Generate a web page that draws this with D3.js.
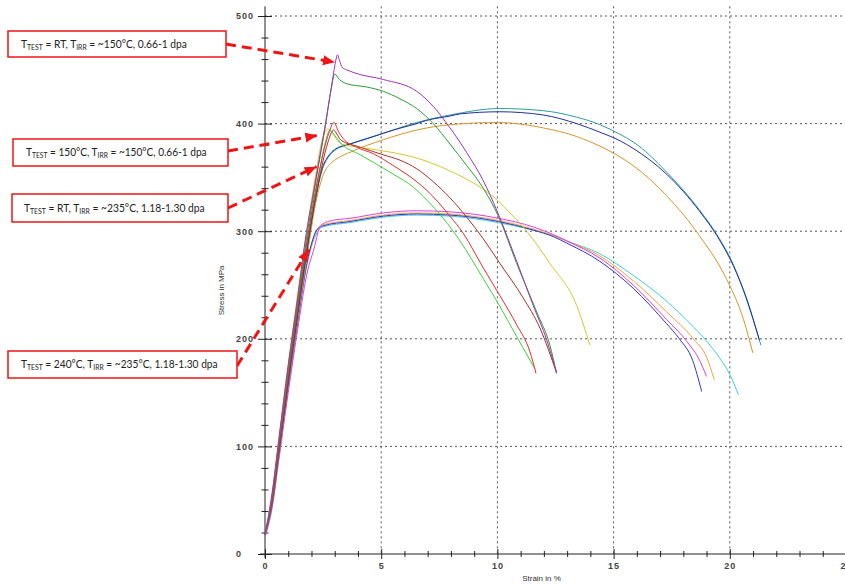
<!DOCTYPE html>
<html>
<head>
<meta charset="utf-8">
<script src="https://cdn.jsdelivr.net/npm/d3@7.9.0/dist/d3.min.js"></script>
<style>
  body { margin: 0; background: #fff; }
  svg { display: block; font-family: "Liberation Sans", Arial, sans-serif; }
</style>
</head>
<body>
<svg id="chart" width="845" height="584"></svg>
<script>
// axis ticks
const xTicks = [0, 5, 10, 15, 20, 25];
const yTicks = [0, 100, 200, 300, 400, 500];

// [strain %, stress MPa]
// T_test = RT, T_irr ~150°C
const rt150Purple = [[0,18],[0.3,56],[0.6,108],[1.0,176],[1.4,238],[1.72,290],[2.2,350],[2.6,400],[2.9,440],[3.05,459],[3.12,464],[3.2,459],[3.33,452],[3.52,450],[3.87,447],[5.09,441],[6.53,430],[7.24,416],[7.96,396],[8.68,373],[9.39,347],[10.0,318],[10.83,272],[11.54,231],[12.12,199],[12.55,168]];
const rt150Green = [[0,18],[0.3,54],[0.6,105],[1.0,172],[1.4,234],[1.75,288],[2.2,348],[2.6,398],[2.85,432],[3.0,446],[3.2,441],[3.52,437],[4.38,434],[5.09,430],[5.81,423],[6.53,414],[7.24,400],[7.96,381],[8.68,361],[9.39,340],[10.04,314],[10.83,270],[11.69,225],[12.26,194],[12.55,168]];

// T_test = 150°C, T_irr ~150°C
const t150Red = [[0,18],[0.3,50],[0.6,100],[1.0,168],[1.4,230],[1.8,290],[2.3,352],[2.7,388],[2.97,401],[3.15,393],[3.37,386],[3.95,378],[4.66,372],[5.52,361],[6.53,346],[6.96,338],[7.96,314],[8.53,298],[9.39,266],[10.11,240],[10.83,213],[11.4,188],[11.66,168]];
const t150LightGreen = [[0,18],[0.3,48],[0.6,98],[1.0,165],[1.4,228],[1.8,288],[2.3,350],[2.6,383],[2.8,394],[2.97,390],[3.25,382],[4.1,371],[4.66,364],[5.52,353],[6.38,341],[6.96,329],[7.67,312],[8.39,291],[9.39,256],[10.11,230],[10.83,202],[11.62,172]];
const t150DarkRed = [[0,18],[0.3,48],[0.6,97],[1.0,162],[1.4,225],[1.8,284],[2.3,345],[2.7,382],[2.95,394],[3.1,390],[3.25,385],[4.1,378],[5.09,371],[5.81,366],[6.53,358],[7.24,346],[7.96,331],[8.68,313],[9.39,293],[10.11,270],[11.11,238],[11.83,210],[12.55,168]];
const t150Yellow = [[0,18],[0.3,52],[0.6,106],[1.0,176],[1.4,240],[1.8,300],[2.2,355],[2.45,384],[2.7,395],[2.95,389],[3.3,381],[4.09,378],[5.52,373],[6.53,368],[7.96,356],[9.39,339],[10.04,328],[10.54,317],[11.26,300],[12.26,270],[13.41,231],[13.98,194]];

// T_test = RT, T_irr ~235°C
const rt235Navy = [[0,18],[0.3,47],[0.6,95],[1.0,160],[1.4,222],[1.8,282],[2.2,334],[2.45,358],[2.7,369],[3.0,376],[3.66,381],[4.4,386],[5.09,391],[5.52,394],[6.53,400],[6.96,403],[7.96,407],[8.39,409],[10.1,411],[11.97,408],[13.41,400],[14.41,392],[15.28,384],[15.84,377],[17.28,353],[18.72,318],[19.44,296],[20.15,268],[20.73,237],[21.27,199]];
const rt235Teal = [[0,18],[0.3,46],[0.6,94],[1.0,158],[1.4,220],[1.8,280],[2.2,332],[2.45,356],[2.7,368],[3.0,375],[3.66,381],[5.09,391],[6.53,401],[7.96,408],[10.1,414],[11.97,412],[13.41,406],[14.41,399],[15.28,390],[15.84,383],[17.28,355],[18.72,319],[19.44,297],[20.15,269],[20.73,236],[21.34,194]];
const rt235Orange = [[0,18],[0.3,46],[0.6,93],[1.0,157],[1.4,217],[1.8,275],[2.2,328],[2.5,352],[2.78,362],[3.0,366],[3.73,374],[5.09,385],[6.53,394],[7.96,399],[10.04,401],[11.97,396],[13.41,388],[14.41,379],[15.28,369],[15.84,361],[17.28,333],[18.72,295],[19.87,255],[20.59,218],[20.99,187]];

// T_test = 240°C, T_irr ~235°C
const t240Blue = [[0,18],[0.3,46],[0.6,93],[1.0,156],[1.4,215],[1.8,270],[2.05,292],[2.22,301],[2.5,305],[3.66,309],[5.09,314],[6.53,316],[7.96,315],[10.04,309],[11.54,301],[12.4,295],[12.98,289],[14.41,272],[15.84,247],[17.28,214],[17.83,200],[18.4,180],[18.79,151]];
const t240Magenta = [[0,16],[0.3,42],[0.6,88],[1.0,150],[1.4,208],[1.8,260],[2.15,287],[2.32,302],[2.5,307],[2.9,310],[3.66,312],[5.09,317],[6.53,319],[7.96,318],[10.04,312],[11.54,304],[12.4,297],[12.98,291],[14.41,275],[15.84,250],[17.28,218],[18.17,197],[18.7,180],[19.0,165]];
const t240Orange = [[0,18],[0.3,46],[0.6,94],[1.0,157],[1.4,216],[1.8,271],[2.08,293],[2.25,302],[2.5,306],[3.66,310],[5.09,315],[6.53,317],[7.96,316],[10.04,310],[11.54,302],[12.4,296],[12.98,291],[14.41,277],[15.84,254],[17.28,225],[18.47,199],[19.0,183],[19.33,162]];
const t240Cyan = [[0,18],[0.3,45],[0.6,92],[1.0,155],[1.4,214],[1.8,268],[2.1,292],[2.27,300],[2.5,304],[3.66,308],[5.09,313],[6.53,315],[7.96,314],[10.04,308],[11.54,301],[12.4,296],[12.98,291],[14.41,279],[15.84,259],[17.28,235],[18.3,214],[19.0,198],[19.6,181],[20.0,167],[20.37,148]];

// annotation texts and the point each arrow hits [strain, stress]
const notes = [
  { test: "RT", irr: "~150°C, 0.66-1 dpa", tip: [3.01, 457] },
  { test: "150°C", irr: "~150°C, 0.66-1 dpa", tip: [2.25, 389] },
  { test: "RT", irr: "~235°C, 1.18-1.30 dpa", tip: [2.22, 360] },
  { test: "240°C", irr: "~235°C, 1.18-1.30 dpa", tip: [1.89, 283] }
];

const series = [
  { data: t240Cyan, color: "#3ccfd2" },
  { data: t240Orange, color: "#f0a23c" },
  { data: t240Blue, color: "#3434cc" },
  { data: t240Magenta, color: "#dd3ee0" },
  { data: rt235Orange, color: "#d5962a" },
  { data: rt235Teal, color: "#2a9c9c" },
  { data: rt235Navy, color: "#22309a" },
  { data: t150Yellow, color: "#d4c82e" },
  { data: t150LightGreen, color: "#3fcf3f" },
  { data: t150DarkRed, color: "#a2302c" },
  { data: t150Red, color: "#e0302c" },
  { data: rt150Green, color: "#2a9a3a" },
  { data: rt150Purple, color: "#9e36b0" }
];

const svg = d3.select("#chart");
const x = d3.scaleLinear().domain([0, 25]).range([265, 846]);
const y = d3.scaleLinear().domain([0, 500]).range([554, 16]);
const yTop = y(509);

// grid
svg.append("g").selectAll("line")
  .data(yTicks.filter(d => d > 0))
  .join("line")
  .attr("x1", x(0)).attr("x2", 845)
  .attr("y1", d => y(d)).attr("y2", d => y(d))
  .attr("stroke", "#555").attr("stroke-dasharray", "2,3");
svg.append("g").selectAll("line")
  .data(xTicks.filter(d => d > 0))
  .join("line")
  .attr("x1", d => x(d)).attr("x2", d => x(d))
  .attr("y1", yTop).attr("y2", y(0))
  .attr("stroke", "#555").attr("stroke-dasharray", "2,3");

// axes
const xAxis = svg.append("g")
  .attr("transform", `translate(0,${y(0)})`)
  .call(d3.axisBottom(x).tickValues(d3.range(0, 26, 1)).tickSize(4).tickFormat(d => d % 5 === 0 ? d : ""));
xAxis.select(".domain").attr("d", `M${x(0) - 5},0H846`).attr("stroke", "#222");
xAxis.selectAll(".tick line").attr("y1", d => d % 5 === 0 ? -5 : -3).attr("y2", d => d % 5 === 0 ? 5 : 3).attr("stroke", "#222");
xAxis.selectAll(".tick text").attr("y", 9).attr("font-size", 9).attr("font-weight", "bold")
  .attr("fill", "#444").attr("letter-spacing", 1);

const yAxis = svg.append("g")
  .attr("transform", `translate(${x(0)},0)`)
  .call(d3.axisLeft(y).tickValues(d3.range(0, 501, 20)).tickSize(4).tickFormat(d => d % 100 === 0 ? d : ""));
yAxis.select(".domain").attr("d", `M0,${y(0) + 4}V${yTop}`).attr("stroke", "#222");
yAxis.selectAll(".tick line").attr("x1", d => d % 100 === 0 ? -7 : -3.5).attr("x2", d => d % 100 === 0 ? 7 : 3.5).attr("stroke", "#222");
yAxis.selectAll(".tick text").attr("x", -29).attr("text-anchor", "start")
  .attr("font-size", 9).attr("font-weight", "bold").attr("fill", "#444").attr("letter-spacing", 1);

svg.append("text").attr("x", (x(0) + 846) / 2 - 14).attr("y", 581)
  .attr("text-anchor", "middle").attr("font-size", 8).attr("fill", "#333")
  .text("Strain in %");
svg.append("text").attr("transform", `translate(224,${y(245)}) rotate(-90)`)
  .attr("text-anchor", "middle").attr("font-size", 8).attr("fill", "#333")
  .text("Stress in MPa");

// curves
const line = d3.line().x(d => x(d[0])).y(d => y(d[1])).curve(d3.curveMonotoneX);
svg.append("g").selectAll("path")
  .data(series)
  .join("path")
  .attr("d", d => line(d.data))
  .attr("fill", "none")
  .attr("stroke", d => d.color)
  .attr("stroke-width", 1);

// annotation boxes (tw = width the text should take)
const boxes = [
  { x: 8, y: 31, w: 218, h: 26, tx: 21, tw: 166, from: [226, 44] },
  { x: 13, y: 139, w: 215, h: 27, tx: 26, tw: 181, from: [228, 151] },
  { x: 12, y: 194, w: 216, h: 28, tx: 24, tw: 181, from: [228, 208] },
  { x: 8, y: 351, w: 229, h: 27, tx: 21, tw: 197, from: [237, 366] }
];

svg.append("defs").append("marker")
  .attr("id", "head").attr("markerUnits", "userSpaceOnUse")
  .attr("markerWidth", 14).attr("markerHeight", 12)
  .attr("refX", 12).attr("refY", 5).attr("orient", "auto")
  .append("path").attr("d", "M0,0L12,5L0,10Z").attr("fill", "#f01414");

notes.forEach((n, i) => {
  const b = boxes[i];
  const tx = x(n.tip[0]), ty = y(n.tip[1]);
  svg.append("line")
    .attr("x1", b.from[0]).attr("y1", b.from[1])
    .attr("x2", tx).attr("y2", ty)
    .attr("stroke", "#f01414").attr("stroke-width", 3)
    .attr("stroke-dasharray", "10,6")
    .attr("marker-end", "url(#head)");
  svg.append("rect")
    .attr("x", b.x).attr("y", b.y).attr("width", b.w).attr("height", b.h)
    .attr("fill", "#fff").attr("stroke", "#f01414").attr("stroke-width", 1.5);
  const t = svg.append("text")
    .attr("x", 0).attr("y", b.y + b.h / 2 + 4)
    .attr("font-family", "Lato, 'Liberation Sans', sans-serif")
    .attr("font-size", 12).attr("fill", "#222");
  t.append("tspan").text("T");
  t.append("tspan").attr("font-size", 8).attr("dy", 2).text("TEST");
  t.append("tspan").attr("dy", -2).text(" = " + n.test + ", T");
  t.append("tspan").attr("font-size", 8).attr("dy", 2).text("IRR");
  t.append("tspan").attr("dy", -2).text(" = " + n.irr);
  const s = b.tw / t.node().getComputedTextLength();
  t.attr("transform", `translate(${b.tx},0) scale(${s},1)`);
});
</script>
</body>
</html>
